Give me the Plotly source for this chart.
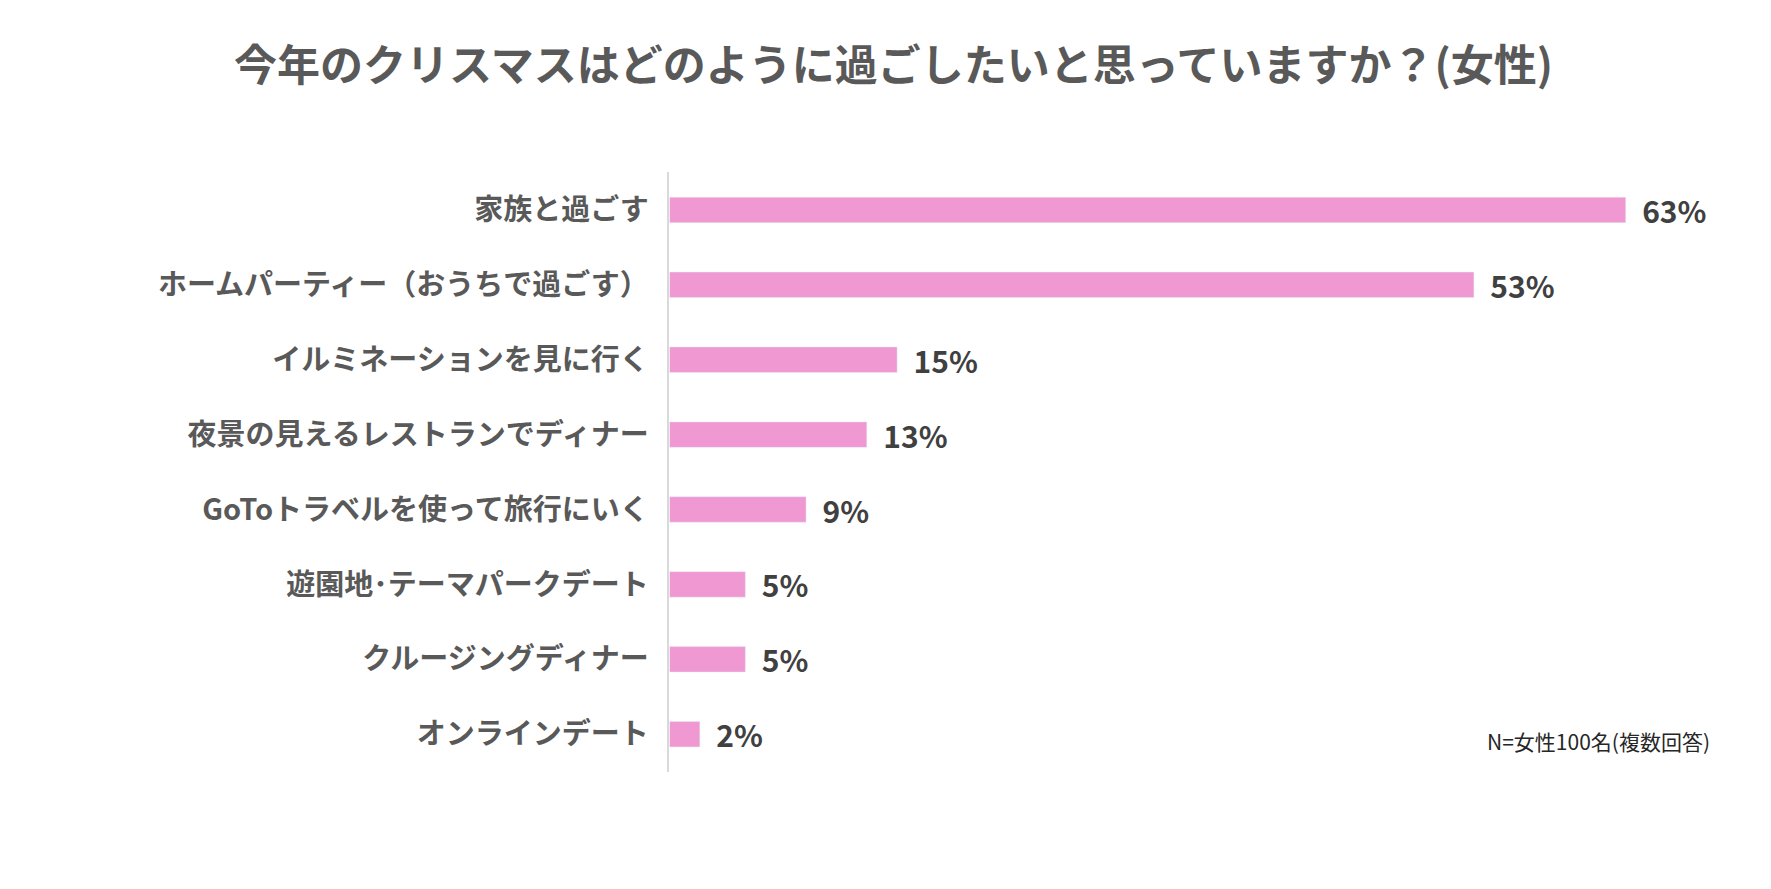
import plotly.graph_objects as go

categories = ["家族と過ごす", "ホームパーティー（おうちで過ごす）", "イルミネーションを見に行く",
              "夜景の見えるレストランでディナー", "GoToトラベルを使って旅行にいく",
              "遊園地･テーマパークデート", "クルージングディナー", "オンラインデート"]
values = [63, 53, 15, 13, 9, 5, 5, 2]
labels = [f"{v}%" for v in values]

fig = go.Figure(go.Bar(
    y=categories, x=values, orientation="h", width=0.34,
    marker_color="#EF98D2", text=labels, textposition="outside",
    texttemplate="  <b>%{text}</b>", constraintext="none",
    textfont=dict(size=30, color="#404040", family="Noto Sans CJK JP"),
    cliponaxis=False))
fig.update_layout(
    width=1771, height=889, plot_bgcolor="white", paper_bgcolor="white",
    margin=dict(l=0, r=0, t=0, b=0), showlegend=False, uniformtext=dict(mode=False),
    font=dict(family="Noto Sans CJK JP", color="#595959"),
    title=dict(text="<b>今年のクリスマスはどのように過ごしたいと思っていますか？(女性)</b>",
               x=0.5, xanchor="center", y=0.935, yanchor="middle",
               font=dict(size=43, color="#595959")),
    xaxis=dict(domain=[0.3735, 1], range=[0, 73.1], visible=False),
    yaxis=dict(domain=[0.141, 0.815], autorange="reversed", showline=True,
               linecolor="#D9D9D9", linewidth=2, ticks="", tickprefix="<b>",
               ticksuffix="</b>  ", tickfont=dict(size=29, color="#595959"), showgrid=False),
    annotations=[dict(text="N=女性100名(複数回答)", x=0.962, y=0.175, xref="paper", yref="paper",
                      xanchor="right", yanchor="middle", showarrow=False,
                      font=dict(size=21, color="#262626"))])
fig.write_html("out.html")
